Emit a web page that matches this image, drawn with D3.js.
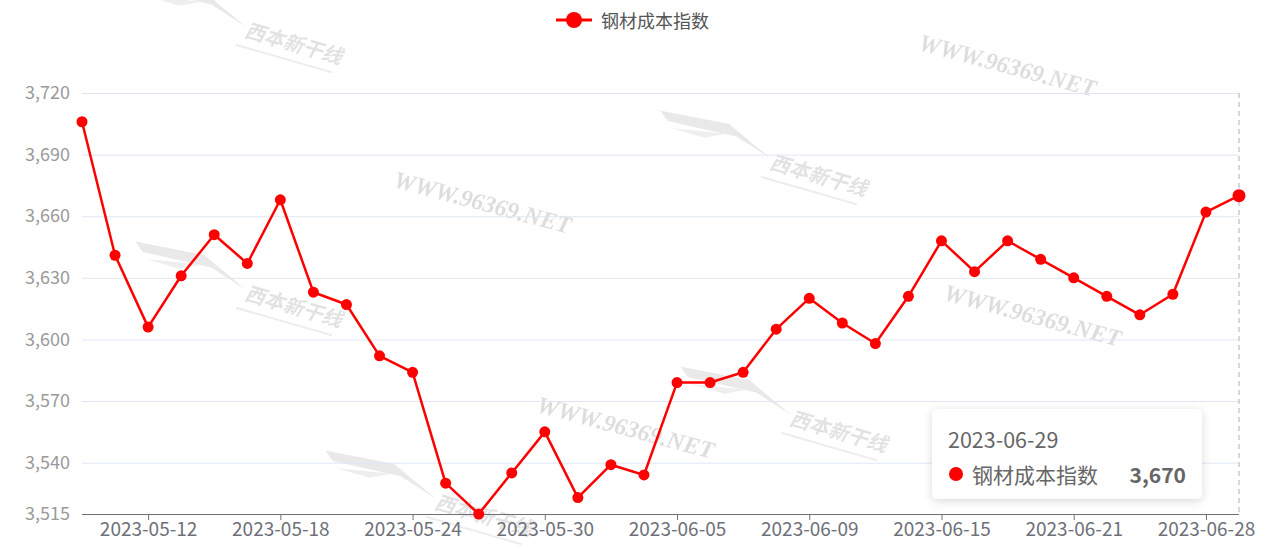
<!DOCTYPE html>
<html><head><meta charset="utf-8">
<script src="https://cdn.jsdelivr.net/npm/d3@7"></script>
<style>
body{margin:0;background:#fff;font-family:"Noto Sans CJK SC","Noto Sans",sans-serif;}
svg{display:block}
</style></head>
<body><svg id="c" width="1287" height="550"></svg>
<script>
const seriesName = "钢材成本指数";
const dates = ["2023-05-10","2023-05-11","2023-05-12","2023-05-15","2023-05-16","2023-05-17","2023-05-18","2023-05-19","2023-05-22","2023-05-23","2023-05-24","2023-05-25","2023-05-26","2023-05-29","2023-05-30","2023-05-31","2023-06-01","2023-06-02","2023-06-05","2023-06-06","2023-06-07","2023-06-08","2023-06-09","2023-06-12","2023-06-13","2023-06-14","2023-06-15","2023-06-16","2023-06-19","2023-06-20","2023-06-21","2023-06-25","2023-06-26","2023-06-27","2023-06-28","2023-06-29"];
const values = [3706,3641,3606,3631,3651,3637,3668,3623,3617,3592,3584,3530,3515,3535,3555,3523,3539,3534,3579,3579,3584,3605,3620,3608,3598,3621,3648,3633,3648,3639,3630,3621,3612,3622,3662,3670];
const yTicks = [3515,3540,3570,3600,3630,3660,3690,3720];
const xLabelDates = ["2023-05-12","2023-05-18","2023-05-24","2023-05-30","2023-06-05","2023-06-09","2023-06-15","2023-06-21","2023-06-28"];
const tooltipIndex = 35;

const svg = d3.select("#c");
const L=82, R=1239, T=93, B=514;
const x = d3.scalePoint().domain(dates).range([L,R]);
const y = d3.scaleLinear().domain([3515,3720]).range([B,T]);
const fmt = d3.format(",");

// watermarks
const wm = svg.append("g").attr("pointer-events","none");
const urlMarks = [[482,205],[1007,68],[1032,318],[625,430]];
urlMarks.forEach(([cx,cy])=>{
  wm.append("text").attr("transform",`translate(${cx},${cy}) rotate(15)`)
    .attr("text-anchor","middle").attr("dominant-baseline","middle")
    .attr("font-family","Liberation Serif, serif").attr("font-style","italic").attr("font-weight","bold")
    .attr("font-size",24).attr("fill","#d8d8d8").attr("opacity",0.85).text("WWW.96369.NET");
});
const logoMarks = [[235,30],[760,162],[235,293],[425,502],[780,418]];
logoMarks.forEach(([cx,cy])=>{
  const g = wm.append("g").attr("transform",`translate(${cx},${cy}) rotate(16)`).attr("opacity",0.6);
  g.append("path").attr("d","M-110,-22 L-40,-28 L10,-6 L-30,-18 L-100,-14 Z").attr("fill","#dcdcdc");
  g.append("path").attr("d","M-95,-8 L-40,-18 L-60,-8 Z").attr("fill","#e4e4e4");
  g.append("text").attr("x",10).attr("y",4).attr("font-size",20).attr("font-weight","bold")
    .attr("fill","#cfcfcf").attr("font-style","italic").text("西本新干线");
  g.append("line").attr("x1",5).attr("x2",105).attr("y1",14).attr("y2",14).attr("stroke","#e0e0e0").attr("stroke-width",2);
});

// grid + y labels
const yAxis = d3.axisLeft(y).tickValues(yTicks).tickSize(-(R-L)).tickPadding(12).tickFormat(fmt);
const ya = svg.append("g").attr("transform",`translate(${L},0)`).call(yAxis);
ya.select(".domain").remove();
ya.selectAll(".tick line").attr("stroke","#e0e6f1").attr("stroke-width",1)
  .filter(d=>d===3515).remove();
ya.selectAll(".tick text").attr("fill","#9a9a9a").attr("font-size",18)
  .attr("font-family","'Noto Sans CJK SC','Noto Sans',sans-serif");

// axis pointer
svg.append("line").attr("x1",x(dates[tooltipIndex])).attr("x2",x(dates[tooltipIndex]))
  .attr("y1",T).attr("y2",B).attr("stroke","#b0b0b0").attr("stroke-width",1).attr("stroke-dasharray","5,4");

// x axis
const xAxis = d3.axisBottom(x).tickValues(xLabelDates).tickSize(6).tickPadding(3);
const xa = svg.append("g").attr("transform",`translate(0,${B})`).call(xAxis);
xa.select(".domain").attr("stroke","#6e7079").attr("d",`M${L},0.5H${R}`);
xa.selectAll(".tick line").attr("stroke","#6e7079");
xa.selectAll(".tick text").attr("fill","#6e7079").attr("font-size",19)
  .attr("font-family","'Noto Sans CJK SC','Noto Sans',sans-serif");

// line
const line = d3.line().x((d,i)=>x(dates[i])).y(d=>y(d));
svg.append("path").datum(values).attr("d",line).attr("fill","none")
  .attr("stroke","#ff0000").attr("stroke-width",2.5).attr("stroke-linejoin","round");
svg.append("g").selectAll("circle").data(values).join("circle")
  .attr("cx",(d,i)=>x(dates[i])).attr("cy",d=>y(d)).attr("r",(d,i)=>i===tooltipIndex?6.5:5.5)
  .attr("fill","#ff0000");

// legend
const lg = svg.append("g");
lg.append("line").attr("x1",556).attr("x2",592).attr("y1",20).attr("y2",20).attr("stroke","#ff0000").attr("stroke-width",3);
lg.append("circle").attr("cx",574).attr("cy",20).attr("r",8).attr("fill","#ff0000");
lg.append("text").attr("x",601).attr("y",20).attr("dominant-baseline","central")
  .attr("font-size",18).attr("fill","#555").text(seriesName);

// tooltip
const defs = svg.append("defs");
const f = defs.append("filter").attr("id","sh").attr("x","-20%").attr("y","-30%").attr("width","140%").attr("height","160%");
f.append("feDropShadow").attr("dx",0).attr("dy",2).attr("stdDeviation",5).attr("flood-color","#000").attr("flood-opacity",0.15);
const tt = svg.append("g").attr("transform","translate(932,409)");
tt.append("rect").attr("width",270).attr("height",90).attr("rx",5).attr("fill","#fff").attr("filter","url(#sh)");
tt.append("text").attr("x",16).attr("y",29).attr("dominant-baseline","central").attr("font-size",21.5).attr("fill","#666").text(dates[tooltipIndex]);
tt.append("circle").attr("cx",24).attr("cy",65).attr("r",7).attr("fill","#ff0000");
tt.append("text").attr("x",40).attr("y",65).attr("dominant-baseline","central").attr("font-size",21).attr("fill","#666").text(seriesName);
tt.append("text").attr("x",254).attr("y",65).attr("text-anchor","end").attr("dominant-baseline","central")
  .attr("font-size",21).attr("font-weight","bold").attr("fill","#666").text(fmt(values[tooltipIndex]));
</script></body></html>
